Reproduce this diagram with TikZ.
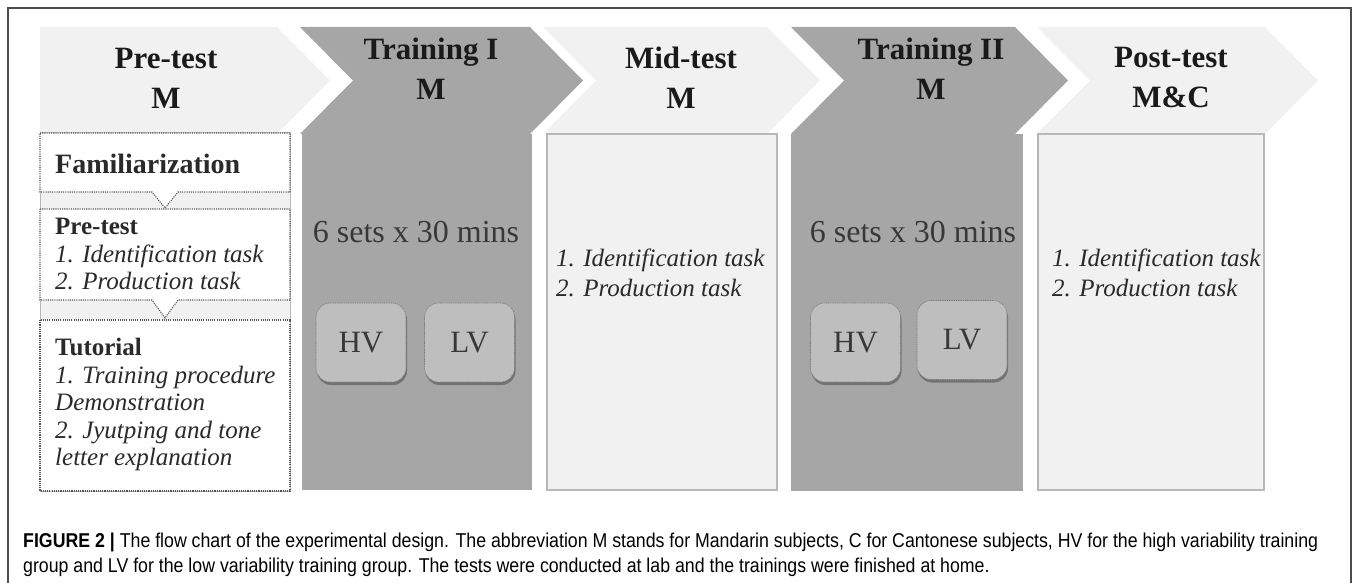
\documentclass[tikz,border=0pt]{standalone}
\usepackage{fontspec}
\setmainfont{Liberation Serif}
\newfontfamily\capfont{Liberation Sans}
\usetikzlibrary{shadows}
\definecolor{lightg}{HTML}{F1F1F1}
\definecolor{darkg}{HTML}{A6A6A6}
\definecolor{boxg}{HTML}{BEBEBE}
\definecolor{edgeg}{HTML}{B8B8B8}
\definecolor{inkc}{HTML}{1A1A1A}
\definecolor{txtc}{HTML}{2A2A2A}
\definecolor{capc}{HTML}{222222}
\definecolor{settc}{HTML}{383838}
\definecolor{dotc}{HTML}{555555}
\definecolor{framec}{HTML}{4D4D4D}
\newsavebox\capA
\newsavebox\capB
\begin{document}
\sbox\capA{\capfont\fontsize{20}{26}\selectfont\textbf{FIGURE 2 |} The flow chart of the experimental design. The abbreviation M stands for Mandarin subjects, C for Cantonese subjects, HV for the high variability training}%
\sbox\capB{\capfont\fontsize{20}{26}\selectfont group and LV for the low variability training group. The tests were conducted at lab and the trainings were finished at home.}%
\pgfmathsetmacro\capscale{1295/\wd\capA}%
\begin{tikzpicture}[x=1pt,y=-1pt,
  chevlight/.style={fill=lightg},
  chevdark/.style={fill=darkg},
  coldark/.style={fill=darkg},
  collight/.style={draw=edgeg, fill=lightg, line width=1.2pt},
  dotbox/.style={draw=dotc, fill=white, line width=1.1pt, dash pattern=on 1.1pt off 1.1pt},
  head/.style={font=\fontsize{31}{40}\selectfont\bfseries, text=inkc, align=center, inner sep=0pt},
  settxt/.style={font=\fontsize{32}{38}\selectfont, text=settc, inner sep=0pt},
  vbox/.style={draw=dotc!80, fill=boxg, line width=0.6pt, dash pattern=on 1pt off 0.8pt,
    rounded corners=14pt, minimum width=90pt, minimum height=79pt, inner sep=0pt,
    font=\fontsize{31}{36}\selectfont, text=settc,
    drop shadow={shadow xshift=1pt, shadow yshift=-3pt, fill=black, opacity=0.3}},
  listtxt/.style={font=\fontsize{25}{30}\selectfont\itshape, text=txtc, align=left, inner sep=0pt, anchor=north west},
  pretxt/.style={font=\fontsize{25}{27.5}\selectfont, text=txtc, align=left, inner sep=0pt, anchor=north west},
  captxt/.style={anchor=base west, inner sep=0pt, text=capc}
]
\useasboundingbox (0,0) rectangle (1357,583);
\fill[white] (0,0) rectangle (1357,583);
\draw[framec, line width=1.5pt] (8,583) -- (8,8) -- (1351,8) -- (1351,583);

% chevrons
\fill[chevlight] (40,27) -- (277,27) -- (330,80.5) -- (277,134) -- (40,134) -- cycle;
\fill[chevdark] (300,27) -- (530,27) -- (583,80.5) -- (530,134) -- (300,134) -- (353,80.5) -- cycle;
\fill[chevlight] (543,27) -- (767,27) -- (820,80.5) -- (767,134) -- (543,134) -- (596,80.5) -- cycle;
\fill[chevdark] (791,27) -- (1015,27) -- (1068,80.5) -- (1015,134) -- (791,134) -- (844,80.5) -- cycle;
\fill[chevlight] (1037,27) -- (1265,27) -- (1318,80.5) -- (1265,134) -- (1037,134) -- (1090,80.5) -- cycle;

% columns
\fill[coldark] (302,134) rectangle (532,490);
\fill[coldark] (791,134) rectangle (1023,491);
\draw[collight] (547,134) rectangle (777,490);
\draw[collight] (1038,134) rectangle (1264,490);

% pre-test column
\draw[collight, line width=1pt] (40,133) rectangle (290,491);
\draw[dotbox] (40,133) -- (290,133) -- (290,192) -- (178,192) -- (165,208) -- (152,192) -- (40,192) -- cycle;
\draw[dotbox] (40,209) -- (290,209) -- (290,300) -- (178,300) -- (165,318) -- (152,300) -- (40,300) -- cycle;
\draw[dotbox] (40,320) rectangle (290,491);

% headings
\node[head] (hpre) at (166,78) {Pre-test\\M};
\node[head] (htr1) at (431,69) {Training I\\M};
\node[head] (hmid) at (681,78) {Mid-test\\M};
\node[head] (htr2) at (931,69) {Training II\\M};
\node[head] (hpost) at (1171,78) {Post-test\\M\&C};

% pre-test column texts
\node[anchor=base west, inner sep=0pt, font=\fontsize{28}{32}\selectfont\bfseries, text=txtc] (fam) at (55,173) {Familiarization};
\node[pretxt] (pre) at (55,218) {\textbf{Pre-test}\\\textit{1. Identification task}\\\textit{2. Production task}};
\node[pretxt] (tut) at (55,338) {\textbf{Tutorial}\\\textit{1. Training procedure}\\\textit{Demonstration}\\\textit{2. Jyutping and tone}\\\textit{letter explanation}};

% training columns
\node[settxt] (sets1) at (416,232) {6 sets x 30 mins};
\node[settxt] (sets2) at (913,232) {6 sets x 30 mins};
\node[vbox] (hv1) at (361,342.5) {HV};
\node[vbox] (lv1) at (469.5,342.5) {LV};
\node[vbox] (hv2) at (855.5,342.5) {HV};
\node[vbox] (lv2) at (962,340) {LV};

% test columns
\node[listtxt] (mid) at (556,249) {1. Identification task\\2. Production task};
\node[listtxt] (post) at (1052,249) {1. Identification task\\2. Production task};

% caption
\node[captxt] (cap1) at (23,547) {\scalebox{\capscale}[1]{\usebox\capA}};
\node[captxt] (cap2) at (23,572) {\scalebox{\capscale}[1]{\usebox\capB}};
\end{tikzpicture}
\end{document}
